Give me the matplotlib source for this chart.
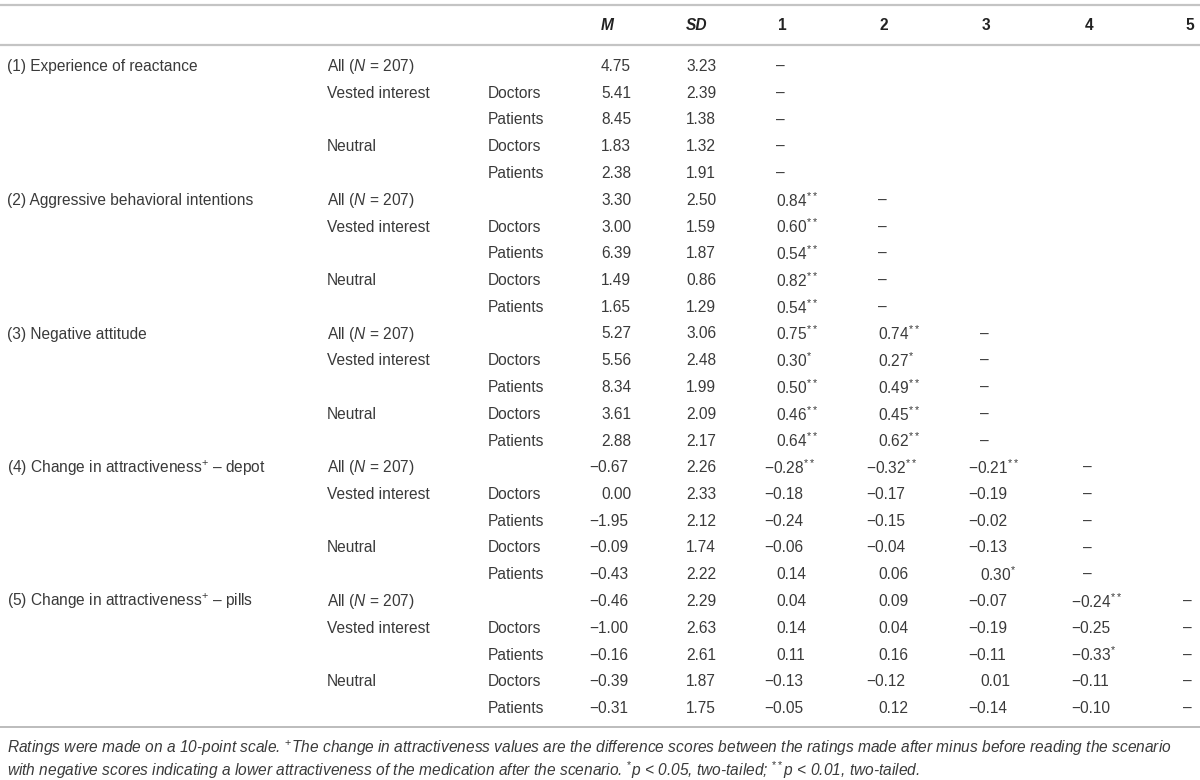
import matplotlib
matplotlib.use("Agg")
import matplotlib.pyplot as plt

plt.rcParams['font.family'] = ['Liberation Sans', 'DejaVu Sans']
plt.rcParams['mathtext.fontset'] = 'custom'
plt.rcParams['mathtext.rm'] = 'Liberation Sans'
plt.rcParams['mathtext.it'] = 'Liberation Sans:italic'
plt.rcParams['mathtext.bf'] = 'Liberation Sans:bold'

# ---------------- data ----------------
measures = [
    "(1) Experience of reactance",
    "(2) Aggressive behavioral intentions",
    "(3) Negative attitude",
    "(4) Change in attractiveness$^{+}$ \u2013 depot",
    "(5) Change in attractiveness$^{+}$ \u2013 pills",
]
groups = ["All ($\\mathit{N}$ = 207)", "Vested interest", "", "Neutral", ""]
subgroups = ["", "Doctors", "Patients", "Doctors", "Patients"]

headers = ["M", "SD", "1", "2", "3", "4", "5"]

mean_vals = [4.75, 5.41, 8.45, 1.83, 2.38,
             3.30, 3.00, 6.39, 1.49, 1.65,
             5.27, 5.56, 8.34, 3.61, 2.88,
             -0.67, 0.00, -1.95, -0.09, -0.43,
             -0.46, -1.00, -0.16, -0.39, -0.31]
sd_vals = [3.23, 2.39, 1.38, 1.32, 1.91,
           2.50, 1.59, 1.87, 0.86, 1.29,
           3.06, 2.48, 1.99, 2.09, 2.17,
           2.26, 2.33, 2.12, 1.74, 2.22,
           2.29, 2.63, 2.61, 1.87, 1.75]

D = "\u2013"
corr1 = [D, D, D, D, D,
         "0.84**", "0.60**", "0.54**", "0.82**", "0.54**",
         "0.75**", "0.30*", "0.50**", "0.46**", "0.64**",
         "-0.28**", "-0.18", "-0.24", "-0.06", "0.14",
         "0.04", "0.14", "0.11", "-0.13", "-0.05"]
corr2 = ["", "", "", "", "",
         D, D, D, D, D,
         "0.74**", "0.27*", "0.49**", "0.45**", "0.62**",
         "-0.32**", "-0.17", "-0.15", "-0.04", "0.06",
         "0.09", "0.04", "0.16", "-0.12", "0.12"]
corr3 = ["", "", "", "", "",
         "", "", "", "", "",
         D, D, D, D, D,
         "-0.21**", "-0.19", "-0.02", "-0.13", "0.30*",
         "-0.07", "-0.19", "-0.11", "0.01", "-0.14"]
corr4 = ["", "", "", "", "",
         "", "", "", "", "",
         "", "", "", "", "",
         D, D, D, D, D,
         "-0.24**", "-0.25", "-0.33*", "-0.11", "-0.10"]
corr5 = ["", "", "", "", "",
         "", "", "", "", "",
         "", "", "", "", "",
         "", "", "", "", "",
         D, D, D, D, D]

footnote1 = ("Ratings were made on a 10-point scale. $^{+}$The change in attractiveness values are the "
             "difference scores between the ratings made after minus before reading the scenario")
footnote2 = ("with negative scores indicating a lower attractiveness of the medication after the scenario. "
             "$^{*}$p < 0.05, two-tailed; $^{**}$p < 0.01, two-tailed.")

# ---------------- layout ----------------
W, H = 1200, 780
fig = plt.figure(figsize=(W / 100, H / 100), dpi=100)
ax = fig.add_axes([0, 0, 1, 1])
ax.set_xlim(0, W)
ax.set_ylim(H, 0)
ax.axis('off')

TXT = '#3a3a3a'
FS = 11.2
LINE = '#c4c4c4'

x_a, x_b, x_c = 7, 327, 488
x_num = [601, 686, 776, 878, 980, 1083, 1183]
MINUS_OFF = 12
y_head = 26
y0, dy = 66.5, 26.75

ax.plot([0, W], [5, 5], color=LINE, lw=1.6, solid_capstyle='butt')
ax.plot([0, W], [45, 45], color=LINE, lw=1.6, solid_capstyle='butt')
ax.plot([0, W], [727, 727], color='#b0b0b0', lw=1.2, solid_capstyle='butt')

for i, h in enumerate(headers):
    st = 'italic' if h in ("M", "SD") else 'normal'
    ax.text(x_num[i] + (0 if i < 2 else 2), y_head, h, fontsize=FS, fontweight='bold',
            fontstyle=st, color='#222222', va='center', ha='left')


def fmt_cell(s):
    if s == "" or s == D:
        return s, False
    neg = s.startswith("-")
    core = s.lstrip("-")
    stars = core.count("*")
    num = core.replace("*", "")
    txt = num + ("$^{" + "*" * stars + "}$" if stars else "")
    if neg:
        txt = "\u2212" + txt
    return txt, neg


def draw_num(x, y, s):
    if s == "":
        return
    txt, neg = fmt_cell(s)
    ax.text(x - (MINUS_OFF if neg else 0), y, txt, fontsize=FS, color=TXT,
            va='center', ha='left')


corr_cols = [corr1, corr2, corr3, corr4, corr5]
for r in range(25):
    y = y0 + r * dy
    blk, sub = divmod(r, 5)
    if sub == 0:
        ax.text(x_a, y, measures[blk], fontsize=FS, color=TXT, va='center', ha='left')
    if groups[sub]:
        ax.text(x_b, y, groups[sub], fontsize=FS, color=TXT, va='center', ha='left')
    if subgroups[sub]:
        ax.text(x_c, y, subgroups[sub], fontsize=FS, color=TXT, va='center', ha='left')
    for k, v in enumerate([mean_vals[r], sd_vals[r]]):
        s = ("-" if v < 0 else "") + f"{abs(v):.2f}"
        draw_num(x_num[k], y, s)
    for k, col in enumerate(corr_cols):
        draw_num(x_num[2 + k], y, col[r])

ax.text(x_a, 748, footnote1, fontsize=11.2, fontstyle='italic', color=TXT, va='center', ha='left')
ax.text(x_a, 770, footnote2, fontsize=11.2, fontstyle='italic', color=TXT, va='center', ha='left')

fig.savefig("out.png", dpi=100)
